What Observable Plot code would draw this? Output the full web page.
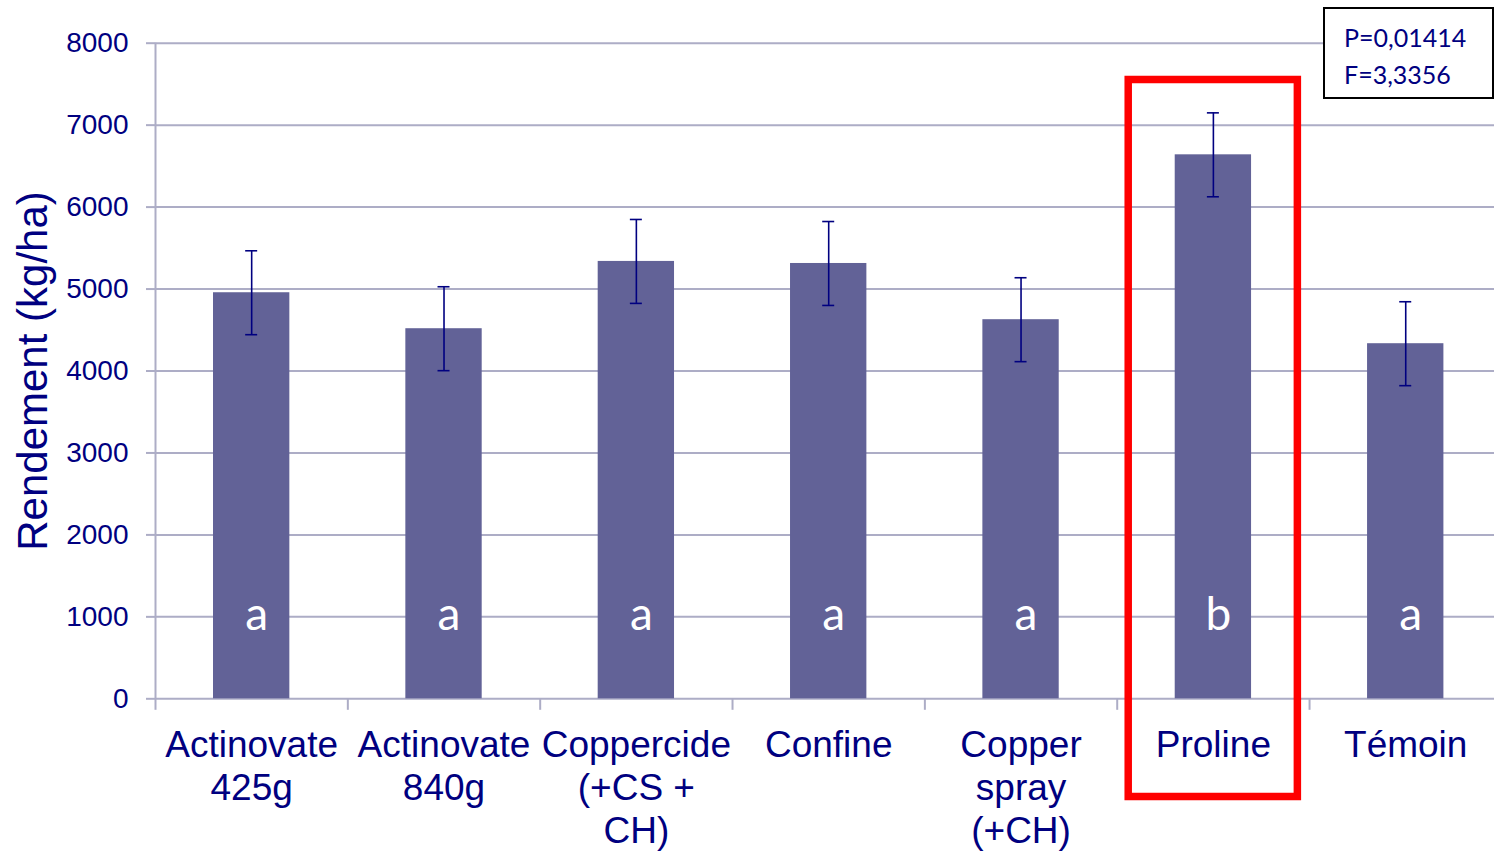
<!DOCTYPE html>
<html>
<head>
<meta charset="utf-8">
<script src="https://cdn.jsdelivr.net/npm/d3@7"></script>
<script src="https://cdn.jsdelivr.net/npm/@observablehq/plot@0.6"></script>
<style>
  html, body { margin: 0; padding: 0; background: #fff; }
  #wrap { position: relative; width: 1494px; height: 851px; overflow: hidden; }
  #stats {
    position: absolute; left: 1323px; top: 7px; width: 171px; height: 92px;
    box-sizing: border-box; border: 2px solid #000; background: #fff;
    font-family: Lato, "Open Sans", sans-serif; font-size: 25px; color: #000080;
    padding: 10px 0 0 19px; line-height: 36.5px;
  }
</style>
</head>
<body>
<div id="wrap"></div>
<script>
// Treatments (label lines), mean yield, standard error and significance group
const treatments = ["Actinovate 425g", "Actinovate 840g", "Coppercide (+CS + CH)", "Confine", "Copper spray (+CH)", "Proline", "Témoin"];
const labelLines = ["Actinovate\n425g", "Actinovate\n840g", "Coppercide\n(+CS +\nCH)", "Confine", "Copper\nspray\n(+CH)", "Proline", "Témoin"];
const yields = [4955, 4516, 5337, 5312, 4626, 6638, 4333];
const errors = [512, 512, 512, 512, 512, 512, 512];
const groups = ["a", "a", "a", "a", "a", "b", "a"];
const yTicks = [0, 1000, 2000, 3000, 4000, 5000, 6000, 7000, 8000];
const highlighted = ["Proline"];
const statsLines = ["P=0,01414", "F=3,3356"];

const data = treatments.map((t, i) => ({
  i, treatment: t, label: labelLines[i], value: yields[i], err: errors[i], group: groups[i]
}));
const boundaries = d3.range(treatments.length + 1);
const highlightIdx = highlighted.map(h => treatments.indexOf(h));

const navy = "#000080";
const barColor = "#626297";
const gridColor = "#adadc6";

const chart = Plot.plot({
  width: 1494,
  height: 851,
  marginTop: 42.7,
  marginBottom: 152.7,
  marginLeft: 155,
  marginRight: 0,
  style: { fontFamily: "Liberation Sans, Arial, sans-serif", background: "#fff" },
  x: { type: "linear", domain: [0, treatments.length], range: [155, 1501.4] },
  y: { domain: [0, 8000], range: [698.3, 42.7] },
  marks: [
    // horizontal gridlines
    Plot.ruleY(yTicks, { stroke: gridColor, strokeWidth: 2 }),
    // y axis
    Plot.axisY({
      ticks: yTicks, tickFormat: d => String(d), tickSize: 9, tickPadding: 18, fontSize: 28,
      color: navy, stroke: gridColor, strokeWidth: 2, label: null
    }),
    Plot.ruleX([0], { stroke: gridColor, strokeWidth: 2 }),
    // category boundary ticks
    Plot.axisX({
      ticks: boundaries, tickSize: 11.5, tickFormat: () => "",
      stroke: gridColor, strokeWidth: 2, label: null
    }),
    // bars
    Plot.rectY(data, {
      x1: "i", x2: d => d.i + 1, y: "value",
      insetLeft: 58, insetRight: 58, fill: barColor
    }),
    // error bars
    Plot.ruleX(data, {
      x: d => d.i + 0.5, y1: d => d.value - d.err, y2: d => d.value + d.err,
      stroke: navy, strokeWidth: 1.6
    }),
    Plot.ruleY(data, {
      x1: d => d.i + 0.5, x2: d => d.i + 0.5, y: d => d.value + d.err,
      insetLeft: -6, insetRight: -6, stroke: navy, strokeWidth: 1.6
    }),
    Plot.ruleY(data, {
      x1: d => d.i + 0.5, x2: d => d.i + 0.5, y: d => d.value - d.err,
      insetLeft: -6, insetRight: -6, stroke: navy, strokeWidth: 1.6
    }),
    // significance letters
    Plot.text(data, {
      x: d => d.i + 0.5, text: "group", frameAnchor: "bottom", lineAnchor: "bottom",
      dx: 5, dy: -69, fill: "#fff", fontSize: 46, fontFamily: "Lato, 'Open Sans', sans-serif"
    }),
    // treatment labels
    Plot.text(data, {
      x: d => d.i + 0.5, text: "label", frameAnchor: "bottom", lineAnchor: "top",
      dy: 27.5, lineHeight: 1.16, fill: navy, fontSize: 37
    }),
    // highlight frame
    Plot.rect(highlightIdx, {
      x1: d => d, x2: d => d + 1,
      insetLeft: 11.5, insetRight: 11.7, insetTop: 36.8, insetBottom: -98.2,
      fill: "none", stroke: "#ff0000", strokeWidth: 7.5
    }),
    // y axis title
    Plot.text(["Rendement (kg/ha)"], {
      frameAnchor: "left", rotate: -90, dx: -122, textAnchor: "middle", lineAnchor: "middle",
      fill: navy, fontSize: 42
    })
  ]
});

const wrap = document.getElementById("wrap");
wrap.appendChild(chart);
const stats = document.createElement("div");
stats.id = "stats";
stats.innerHTML = statsLines.join("<br>");
wrap.appendChild(stats);
</script>
</body>
</html>
